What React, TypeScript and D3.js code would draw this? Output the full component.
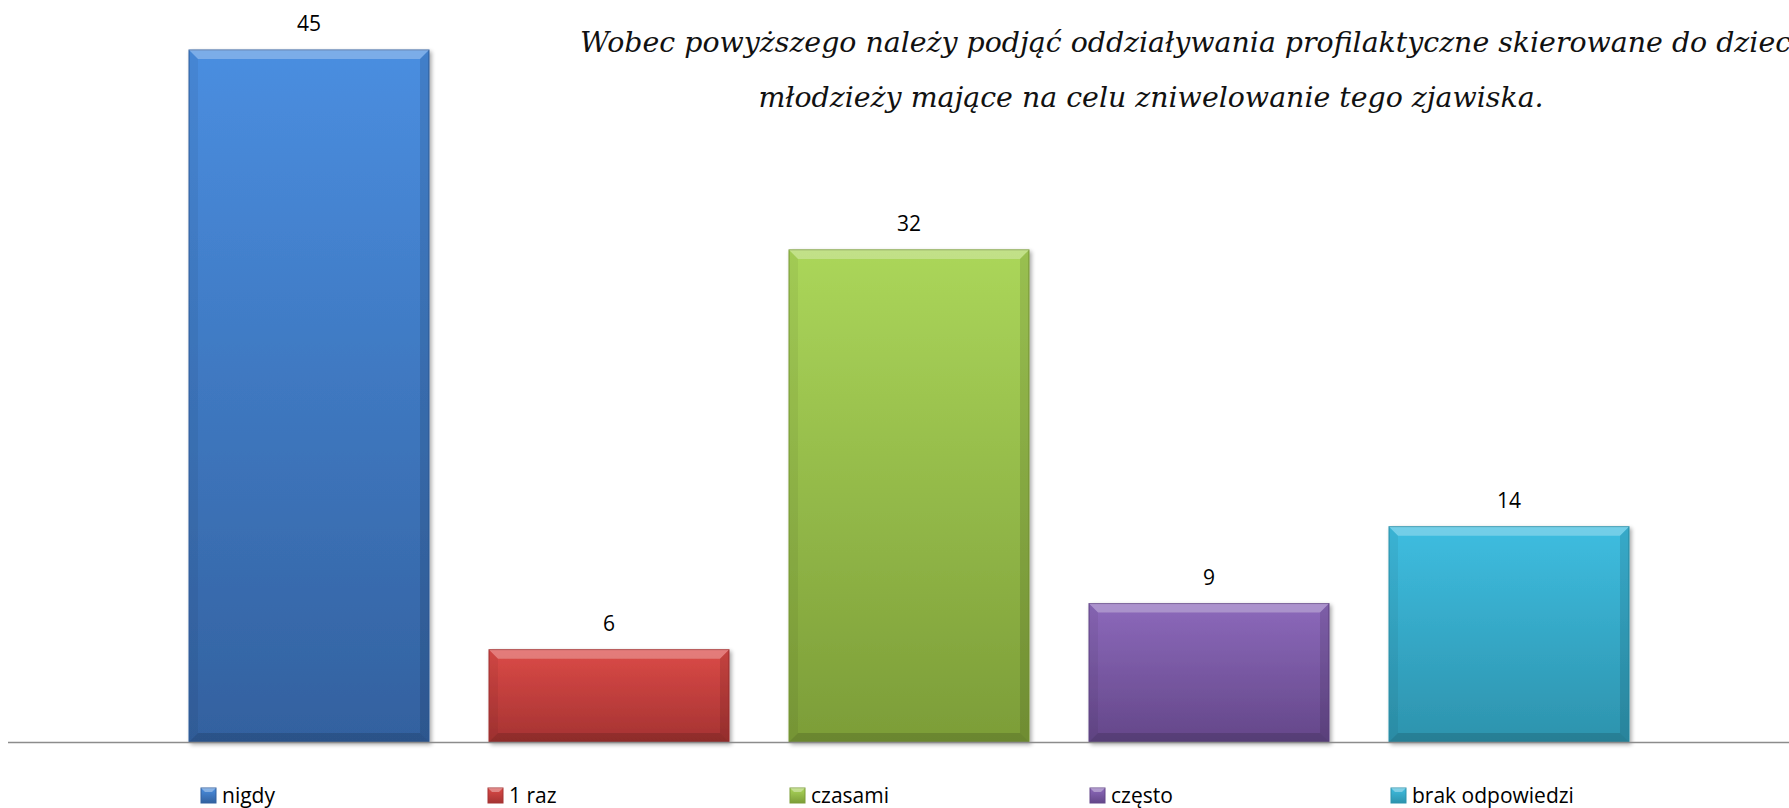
import React from 'react';
import * as d3 from 'd3';

// categories, values, colours (top / bottom of the gradient)
const categories = ['nigdy', '1 raz', 'czasami', 'często', 'brak odpowiedzi'];
const values = [45, 6, 32, 9, 14];
const topColors = ['#4a8ee0', '#db4a47', '#abd65a', '#8c69bb', '#3ebde0'];
const bottomColors = ['#33619f', '#a53332', '#7c9d38', '#644789', '#2d93ad'];

const noteLine1 = 'Wobec powyższego należy podjąć oddziaływania profilaktyczne skierowane do dzieci i';
const noteLine2 = 'młodzieży mające na celu zniwelowanie tego zjawiska.';

const W = 1789;
const H = 808;
const baseY = 742;
// legend item left edges (Excel spreads them by text width)
const legendPos = [201, 488, 790, 1090, 1391];

const App: React.FC = () => {
  const x = d3.scaleBand<string>()
    .domain(categories)
    .range([159, 1659])
    .paddingInner(0.2)
    .paddingOuter(0.1);

  const y = d3.scaleLinear()
    .domain([0, 45])
    .range([baseY, 50]);

  const bev = 9;

  return (
    <svg width={W} height={H} style={{ position: 'absolute', left: 0, top: 0, display: 'block' }}
      fontFamily="'Open Sans', sans-serif">
      <defs>
        {categories.map((c, i) => (
          <linearGradient key={c} id={`g${i}`} x1="0" y1="0" x2="0" y2="1">
            <stop offset="0" stopColor={topColors[i]} />
            <stop offset="1" stopColor={bottomColors[i]} />
          </linearGradient>
        ))}
        <filter id="sh" x="-5%" y="-5%" width="115%" height="115%">
          <feGaussianBlur in="SourceAlpha" stdDeviation="2" />
          <feOffset dx="2" dy="2" result="b" />
          <feComponentTransfer><feFuncA type="linear" slope="0.35" /></feComponentTransfer>
          <feMerge><feMergeNode /><feMergeNode in="SourceGraphic" /></feMerge>
        </filter>
      </defs>
      <rect width={W} height={H} fill="#fff" />

      {/* note text over the chart */}
      <g fontFamily="'DejaVu Serif', serif" fontStyle="italic" fontSize={28.4} fill="#111">
        <text x={580} y={52}>{noteLine1}</text>
        <text x={1151} y={107} textAnchor="middle">{noteLine2}</text>
      </g>

      {categories.map((c, i) => {
        const x0 = x(c)!;
        const w = x.bandwidth();
        const y0 = y(values[i]);
        const h = baseY - y0;
        const x1 = x0 + w;
        return (
          <g key={c}>
            <rect x={x0} y={y0} width={w} height={h} fill={`url(#g${i})`} filter="url(#sh)"
              stroke={bottomColors[i]} strokeWidth={1} />
            {/* bevel: top light, sides and bottom darker */}
            <polygon points={`${x0},${y0} ${x1},${y0} ${x1 - bev},${y0 + bev} ${x0 + bev},${y0 + bev}`}
              fill="#fff" opacity={0.28} />
            <polygon points={`${x0},${y0} ${x0 + bev},${y0 + bev} ${x0 + bev},${baseY - bev} ${x0},${baseY}`}
              fill="#000" opacity={0.05} />
            <polygon points={`${x1},${y0} ${x1 - bev},${y0 + bev} ${x1 - bev},${baseY - bev} ${x1},${baseY}`}
              fill="#000" opacity={0.1} />
            <polygon points={`${x0},${baseY} ${x0 + bev},${baseY - bev} ${x1 - bev},${baseY - bev} ${x1},${baseY}`}
              fill="#000" opacity={0.14} />
            <text x={x0 + w / 2} y={y0 - 19} textAnchor="middle" fontSize={21} fill="#000">{values[i]}</text>
          </g>
        );
      })}

      <line x1={8} x2={W} y1={baseY + 0.5} y2={baseY + 0.5} stroke="#8c8c8c" strokeWidth={1.5} />

      {categories.map((c, i) => {
        const lx = legendPos[i];
        return (
          <g key={`l${c}`}>
            <rect x={lx} y={788} width={15} height={15} fill={`url(#g${i})`} stroke={bottomColors[i]} strokeWidth={1} />
            <polygon points={`${lx},788 ${lx + 15},788 ${lx + 11},792 ${lx + 4},792`} fill="#fff" opacity={0.35} />
            <text x={lx + 21} y={803} fontSize={21} fill="#000">{c}</text>
          </g>
        );
      })}
    </svg>
  );
};

export default App;
